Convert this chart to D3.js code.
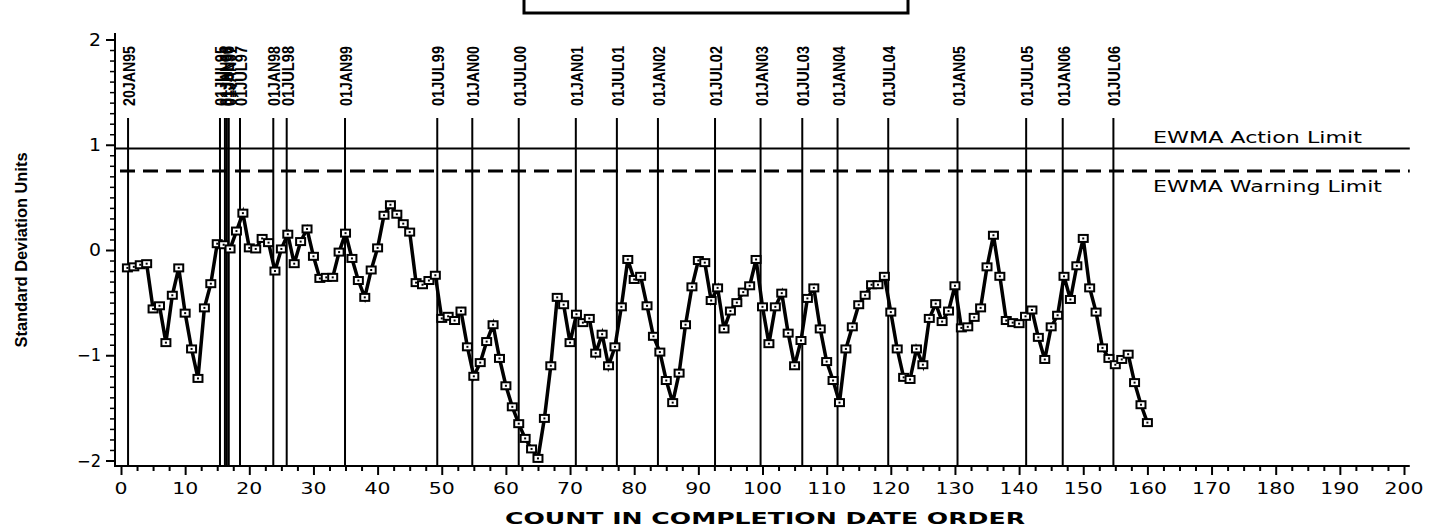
<!DOCTYPE html>
<html><head><meta charset="utf-8">
<script src="https://cdn.jsdelivr.net/npm/d3@7"></script>
<style>
html,body{margin:0;padding:0;background:#fff;}
svg{display:block;}
</style></head>
<body>
<svg id="chart" width="1448" height="529"></svg>
<script>
// ---- DATA ----
const counts = d3.range(1, 161);
const ewmaValues = [
 -0.17,-0.16,-0.14,-0.13,-0.56,-0.53,-0.88,-0.43,-0.17,-0.60,
 -0.94,-1.22,-0.55,-0.32,0.06,0.05,0.01,0.18,0.35,0.02,
 0.01,0.11,0.07,-0.20,0.01,0.15,-0.13,0.08,0.20,-0.06,
 -0.27,-0.26,-0.26,-0.02,0.16,-0.08,-0.29,-0.45,-0.19,0.02,
 0.33,0.43,0.34,0.25,0.17,-0.31,-0.33,-0.29,-0.24,-0.65,
 -0.63,-0.67,-0.58,-0.92,-1.20,-1.07,-0.87,-0.71,-1.03,-1.29,
 -1.49,-1.65,-1.79,-1.89,-1.98,-1.60,-1.10,-0.45,-0.52,-0.88,
 -0.61,-0.69,-0.65,-0.98,-0.80,-1.10,-0.92,-0.54,-0.09,-0.28,
 -0.25,-0.53,-0.82,-0.97,-1.24,-1.45,-1.17,-0.71,-0.35,-0.10,
 -0.12,-0.48,-0.36,-0.75,-0.58,-0.50,-0.40,-0.34,-0.09,-0.54,
 -0.89,-0.54,-0.41,-0.79,-1.10,-0.86,-0.46,-0.36,-0.75,-1.06,
 -1.24,-1.45,-0.94,-0.73,-0.52,-0.43,-0.33,-0.33,-0.25,-0.59,
 -0.94,-1.21,-1.23,-0.94,-1.09,-0.65,-0.51,-0.68,-0.58,-0.34,
 -0.74,-0.73,-0.64,-0.55,-0.16,0.14,-0.25,-0.67,-0.69,-0.70,
 -0.63,-0.57,-0.83,-1.04,-0.73,-0.62,-0.25,-0.47,-0.15,0.11,
 -0.36,-0.59,-0.93,-1.03,-1.09,-1.04,-0.99,-1.26,-1.47,-1.64
];
const refDates = ["20JAN95","01JUL95","01JAN96","01JUL96","01JAN97","01JUL97","01JAN98","01JUL98","01JAN99","01JUL99",
 "01JAN00","01JUL00","01JAN01","01JUL01","01JAN02","01JUL02","01JAN03","01JUL03","01JAN04","01JUL04",
 "01JAN05","01JUL05","01JAN06","01JUL06"];
const refCounts = [1.1,15.43,16.2,16.5,16.8,18.55,23.74,25.83,34.92,49.3,
 54.76,62.0,70.9,77.3,83.7,92.6,99.7,106.2,111.7,119.6,
 130.4,141.1,146.8,154.7];
const actionLimit = 0.965;
const warningLimit = 0.75;
const xTicks = d3.range(0, 201, 10);
const yTicks = [-2,-1,0,1,2];
const yTickLabels = ["\u22122","\u22121","0","1","2"];
const limitLabels = ["EWMA Action Limit","EWMA Warning Limit"];
const xTitle = "COUNT IN COMPLETION DATE ORDER";
const yTitle = "Standard Deviation Units";

// ---- LAYOUT ----
const svg = d3.select("#chart");
const x = d3.scaleLinear().domain([0,200]).range([121,1404]);
const y = d3.scaleLinear().domain([-2,2]).range([460.5,39.5]);
const axisY = 466, axisX = 115;
const xEnd = x(200.9), yTop = 33;
const wideFont = "'DejaVu Sans', sans-serif";
const narrowFont = "'Liberation Sans Narrow', 'Arial Narrow', sans-serif";

// title box (cut off at top)
svg.append("rect").attr("x",524).attr("y",-10).attr("width",384).attr("height",23)
  .attr("fill","none").attr("stroke","#000").attr("stroke-width",3);

// limit lines
svg.append("line").attr("x1",axisX).attr("x2",xEnd).attr("y1",y(actionLimit)).attr("y2",y(actionLimit))
  .attr("stroke","#000").attr("stroke-width",2);
svg.append("line").attr("x1",axisX+5).attr("x2",xEnd).attr("y1",y(warningLimit)).attr("y2",y(warningLimit))
  .attr("stroke","#000").attr("stroke-width",3).attr("stroke-dasharray","15,8");

svg.append("text").attr("x",1153).attr("y",y(actionLimit)-5).text(limitLabels[0])
  .attr("font-family",wideFont).attr("font-size",15).attr("textLength",209).attr("lengthAdjust","spacingAndGlyphs");
svg.append("text").attr("x",1153).attr("y",y(warningLimit)+21).text(limitLabels[1])
  .attr("font-family",wideFont).attr("font-size",15).attr("textLength",229).attr("lengthAdjust","spacingAndGlyphs");

// reference lines
const refG = svg.append("g");
refCounts.forEach((c,i)=>{
  const px = x(c);
  refG.append("line").attr("x1",px).attr("x2",px).attr("y1",118).attr("y2",axisY)
    .attr("stroke","#000").attr("stroke-width",2);
  refG.append("text").attr("transform",`translate(${px+7},106) rotate(-90)`)
    .text(refDates[i]).attr("font-family",narrowFont).attr("font-weight","bold")
    .attr("font-size",17).attr("textLength",60).attr("lengthAdjust","spacingAndGlyphs");
});

// axes lines
svg.append("line").attr("x1",axisX).attr("x2",axisX).attr("y1",yTop).attr("y2",axisY+1)
  .attr("stroke","#000").attr("stroke-width",2);
svg.append("line").attr("x1",axisX-1).attr("x2",xEnd).attr("y1",axisY).attr("y2",axisY)
  .attr("stroke","#000").attr("stroke-width",2);

// x axis ticks
const xAxis = d3.axisBottom(x).tickValues(xTicks).tickSize(9).tickFormat("");
const gx = svg.append("g").attr("transform",`translate(0,${axisY})`).call(xAxis);
gx.select(".domain").remove();
gx.selectAll(".tick line").attr("stroke-width",2);
const xMinor = d3.axisBottom(x).tickValues(d3.range(0,200.1,2.5).filter(v=>v%10!==0)).tickSize(5).tickFormat("");
const gxm = svg.append("g").attr("transform",`translate(0,${axisY})`).call(xMinor);
gxm.select(".domain").remove();
gxm.selectAll(".tick line").attr("stroke-width",2);
svg.append("g").selectAll("text").data(xTicks).join("text")
  .attr("x",d=>x(d)).attr("y",494).attr("text-anchor","middle")
  .attr("font-family",wideFont).attr("font-size",16)
  .attr("textLength",d=>String(d).length*13).attr("lengthAdjust","spacingAndGlyphs")
  .text(d=>d);

// y axis ticks
const yAxis = d3.axisLeft(y).tickValues(yTicks).tickSize(9).tickFormat("");
const gy = svg.append("g").attr("transform",`translate(${axisX},0)`).call(yAxis);
gy.select(".domain").remove();
gy.selectAll(".tick line").attr("stroke-width",2);
const yMinorVals = d3.range(-20,21).map(v=>v/10).filter(v=>Math.abs(v*10)%10!==0);
const yMinor = d3.axisLeft(y).tickValues(yMinorVals).tickSize(5).tickFormat("");
const gym = svg.append("g").attr("transform",`translate(${axisX},0)`).call(yMinor);
gym.select(".domain").remove();
gym.selectAll(".tick line").attr("stroke-width",1.5);
svg.append("g").selectAll("text").data(yTicks).join("text")
  .attr("x",101).attr("y",d=>y(d)+6).attr("text-anchor","end")
  .attr("font-family",wideFont).attr("font-size",17)
  .attr("textLength",(d,i)=>yTickLabels[i].length*12).attr("lengthAdjust","spacingAndGlyphs")
  .text((d,i)=>yTickLabels[i]);

// axis titles
svg.append("text").attr("x",765).attr("y",524).attr("text-anchor","middle")
  .attr("font-family",wideFont).attr("font-weight","bold").attr("font-size",16)
  .attr("textLength",520).attr("lengthAdjust","spacingAndGlyphs").text(xTitle);
svg.append("text").attr("transform","translate(27,250) rotate(-90)").attr("text-anchor","middle")
  .attr("font-family",narrowFont).attr("font-weight","bold").attr("font-size",17)
  .attr("textLength",195).attr("lengthAdjust","spacingAndGlyphs").text(yTitle);

// series line
const pts = counts.map((c,i)=>({c, v: ewmaValues[i]}));
svg.append("path").datum(pts)
  .attr("d", d3.line().x(d=>x(d.c)).y(d=>y(d.v)))
  .attr("fill","none").attr("stroke","#000").attr("stroke-width",3.5).attr("stroke-linejoin","miter");
const mk = svg.append("g").selectAll("g").data(pts).join("g")
  .attr("transform",d=>`translate(${x(d.c)},${y(d.v)})`);
mk.append("rect").attr("x",-4.5).attr("y",-3.5).attr("width",9).attr("height",7)
  .attr("fill","#fff").attr("stroke","#000").attr("stroke-width",2);
mk.append("rect").attr("x",-1).attr("y",-1).attr("width",2).attr("height",2).attr("fill","#000");
</script>
</body></html>
